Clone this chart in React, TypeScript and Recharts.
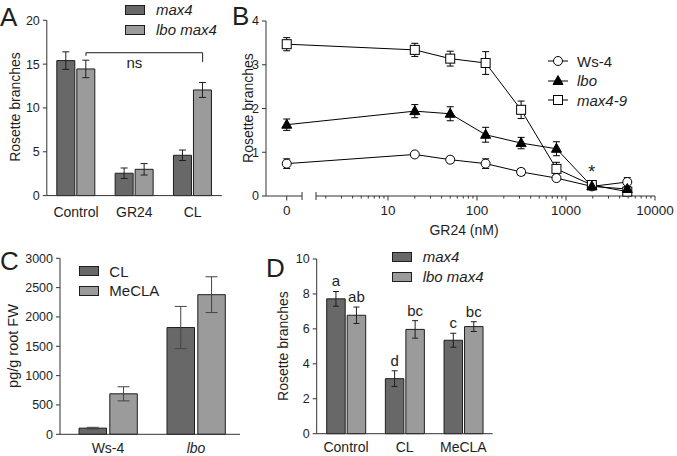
import React from 'react';
import {
  BarChart, Bar, XAxis, YAxis, ErrorBar, LineChart, Line,
  ReferenceLine, ReferenceDot, LabelList, Legend,
} from 'recharts';

const FONT = '"Liberation Sans", Arial, Helvetica, sans-serif';
const DARK = '#686868';
const LIGHT = '#9b9b9b';
const INK = '#1e1e1e';
const AXIS = '#333333';

// ---------------- Panel A ----------------
const aCategories = ['Control', 'GR24', 'CL'];
const aMax4 = [15.4, 2.55, 4.6];
const aMax4Err = [1.0, 0.6, 0.6];
const aLboMax4 = [14.45, 3.0, 12.05];
const aLboMax4Err = [1.0, 0.65, 0.85];
const aTicks = [0, 5, 10, 15, 20];
const aBracketY = 16.3;
const aBracketLeftEnd = 15.95;
const aBracketRightEnd = 15.25;
const aNsY = 15.2;

// ---------------- Panel B ----------------
const bDoses = [0, 20, 50, 125, 313, 781, 1953, 4883];
const bWs4 = [0.74, 0.95, 0.83, 0.74, 0.55, 0.41, 0.22, 0.32];
const bWs4Err = [0.11, 0.06, 0.07, 0.11, 0.08, 0.07, 0.05, 0.1];
const bLbo = [1.63, 1.94, 1.88, 1.4, 1.21, 1.08, 0.22, 0.16];
const bLboErr = [0.13, 0.15, 0.16, 0.17, 0.13, 0.16, 0.06, 0.05];
const bMax49 = [3.47, 3.34, 3.14, 3.04, 1.97, 0.62, 0.25, 0.1];
const bMax49Err = [0.15, 0.15, 0.17, 0.26, 0.2, 0.15, 0.06, 0.05];
const bYTicks = [0, 1, 2, 3, 4];
const bTickLabels = ['0', '10', '100', '1000', '10000'];
const bStarIndex = 6;
const bStarY = 0.56;

// broken-axis layout (log10 units)
const AX_MIN = -0.371;
const ZERO_POS = -0.138;
const SEG1_END = 0.034;
const SEG2_START = 0.191;
const AX_MAX = 4;

// ---------------- Panel C ----------------
const cCategories = ['Ws-4', 'lbo'];
const cCL = [105, 1820];
const cCLErr = [14, 360];
const cMeCLA = [690, 2380];
const cMeCLAErr = [120, 305];
const cTicks = [0, 500, 1000, 1500, 2000, 2500, 3000];

// ---------------- Panel D ----------------
const dCategories = ['Control', 'CL', 'MeCLA'];
const dMax4 = [7.72, 3.15, 5.35];
const dMax4Err = [0.42, 0.45, 0.4];
const dLboMax4 = [6.78, 5.97, 6.13];
const dLboMax4Err = [0.47, 0.5, 0.28];
const dMax4Letters = ['a', 'd', 'c'];
const dLboLetters = ['ab', 'bc', 'bc'];
const dTicks = [0, 2, 4, 6, 8, 10];

// ---------------- data tables ----------------
const dataA = aCategories.map((c, i) => ({
  cat: c, max4: aMax4[i], max4Err: aMax4Err[i], lbo: aLboMax4[i], lboErr: aLboMax4Err[i],
}));
const dataB = bDoses.map((d, i) => ({
  dose: d,
  pos: d === 0 ? ZERO_POS : Math.log10(d),
  ws: bWs4[i], wsErr: bWs4Err[i],
  lbo: bLbo[i], lboErr: bLboErr[i],
  max: bMax49[i], maxErr: bMax49Err[i],
}));
const dataC = cCategories.map((c, i) => ({
  cat: c, cl: cCL[i], clErr: cCLErr[i], me: cMeCLA[i], meErr: cMeCLAErr[i],
}));
const dataD = dCategories.map((c, i) => ({
  cat: c, max4: dMax4[i], max4Err: dMax4Err[i], lbo: dLboMax4[i], lboErr: dLboMax4Err[i],
}));

const bMajor = [ZERO_POS, 1, 2, 3, 4];
const bCaps = [SEG1_END, SEG2_START];
const bMinor: number[] = [];
for (let n = 0; n < 4; n++) for (let k = 2; k <= 9; k++) bMinor.push(n + Math.log10(k));
const bAllTicks = [...bMajor, ...bCaps, ...bMinor].sort((a, b) => a - b);

// ---------------- helpers ----------------
const near = (a: number, b: number) => Math.abs(a - b) < 1e-6;

const BTick = (p: any) => {
  const { x, y, payload } = p;
  const v = payload.value;
  const mi = bMajor.findIndex((m) => near(m, v));
  if (mi >= 0) {
    return (
      <g>
        <line x1={x} y1={y} x2={x} y2={y + 4.5} stroke={AXIS} strokeWidth={1} />
        <text x={x} y={y + 19} textAnchor="middle" fontSize={13.5} fill={INK}>{bTickLabels[mi]}</text>
      </g>
    );
  }
  if (bCaps.some((c) => near(c, v))) {
    return <line x1={x} y1={y - 4} x2={x} y2={y + 4} stroke={AXIS} strokeWidth={1} />;
  }
  return <line x1={x} y1={y} x2={x} y2={y + 2.5} stroke={AXIS} strokeWidth={1} />;
};

const catTick = (baseline: number, italics: string[]) => (p: any) => (
  <text
    x={p.x}
    y={p.y + baseline}
    textAnchor="middle"
    fontSize={14}
    fill={INK}
    fontStyle={italics.includes(p.payload.value) ? 'italic' : 'normal'}
  >
    {p.payload.value}
  </text>
);

const yTick = { fontSize: 12.5, fill: INK };

type BoxItem = { label: string; color: string; italic: boolean };
const boxLegend = (items: BoxItem[], rowH: number, gap: number) => () => (
  <div style={{ fontFamily: FONT }}>
    {items.map((it) => (
      <div key={it.label} style={{ display: 'flex', alignItems: 'center', height: rowH }}>
        <span
          style={{
            display: 'inline-block', width: 20, height: 10, background: it.color,
            border: `1px solid ${INK}`, boxSizing: 'border-box', marginRight: gap,
          }}
        />
        <span
          style={{
            fontSize: 15, fontStyle: it.italic ? 'italic' : 'normal', color: INK,
            lineHeight: `${rowH}px`, whiteSpace: 'nowrap',
          }}
        >
          {it.label}
        </span>
      </div>
    ))}
  </div>
);

const marker = (shape: string, cx: number, cy: number, key: string) => {
  if (shape === 'circle') {
    return <circle key={key} cx={cx} cy={cy} r={4.5} fill="#fff" stroke="#000" strokeWidth={1} />;
  }
  if (shape === 'triangle') {
    return (
      <polygon
        key={key}
        points={`${cx},${cy - 5.5} ${cx - 5},${cy + 3.5} ${cx + 5},${cy + 3.5}`}
        fill="#000"
        stroke="#000"
        strokeWidth={1}
      />
    );
  }
  return <rect key={key} x={cx - 4.5} y={cy - 4.5} width={9} height={9} fill="#fff" stroke="#000" strokeWidth={1} />;
};

const bSeries = [
  { key: 'ws', err: 'wsErr', label: 'Ws-4', italic: false, shape: 'circle' },
  { key: 'max', err: 'maxErr', label: 'max4-9', italic: true, shape: 'square' },
  { key: 'lbo', err: 'lboErr', label: 'lbo', italic: true, shape: 'triangle' },
];
const bLegendOrder = ['ws', 'lbo', 'max'];

const lineLegend = () => (
  <div style={{ fontFamily: FONT }}>
    {bLegendOrder.map((k) => {
      const s = bSeries.find((x) => x.key === k)!;
      return (
        <div key={k} style={{ display: 'flex', alignItems: 'center', height: 19.5 }}>
          <svg width={20} height={12} style={{ marginRight: 9, overflow: 'visible' }}>
            <line x1={0} y1={6} x2={20} y2={6} stroke="#000" strokeWidth={1} />
            {marker(s.shape, 10, 6, `lg-${k}`)}
          </svg>
          <span style={{ fontSize: 15, fontStyle: s.italic ? 'italic' : 'normal', color: INK, whiteSpace: 'nowrap' }}>
            {s.label}
          </span>
        </div>
      );
    })}
  </div>
);

const BAR_A = 18;
const GAP_A = 2;
const shiftedLine = (dx: number) => (p: any) => (
  <line x1={p.x1 + dx} y1={p.y1} x2={p.x2 + dx} y2={p.y2} stroke={INK} strokeWidth={1} />
);

const letterLabel = (vals: number[], errs: number[], letters: string[]) => (p: any) => {
  const vb = p.viewBox && p.viewBox.width !== undefined ? p.viewBox : p;
  const x = vb.x ?? p.x;
  const y = vb.y ?? p.y;
  const width = vb.width ?? p.width;
  const height = vb.height ?? p.height;
  let idx = p.index;
  if (idx === undefined || idx === null) idx = vals.indexOf(p.value);
  if (idx < 0) return null;
  const perUnit = Math.abs(height) / vals[idx];
  const top = y - errs[idx] * perUnit;
  return (
    <text x={x + width / 2} y={top - 5} textAnchor="middle" fontSize={15} fill={INK}>
      {letters[idx]}
    </text>
  );
};

const txt = { fontFamily: FONT, fill: INK };

export default function App() {
  return (
    <div style={{ position: 'absolute', left: 0, top: 0, width: 677, height: 456, background: '#fff', fontFamily: FONT }}>
      {/* Panel A */}
      <div style={{ position: 'absolute', left: 0, top: 0 }}>
        <BarChart width={240} height={225} data={dataA} margin={{ top: 20.3, right: 18.2, bottom: 0, left: 0 }} barSize={BAR_A} barGap={GAP_A}>
          <XAxis dataKey="cat" height={29.4} tickSize={0} tickMargin={0} tickLine={false} axisLine={{ stroke: AXIS }} tick={catTick(21, [])} interval={0} />
          <YAxis domain={[0, 20]} ticks={aTicks} width={46.8} tickSize={4} tickMargin={3} axisLine={{ stroke: AXIS }} tickLine={{ stroke: AXIS }} tick={yTick} interval={0} />
          <Bar dataKey="max4" fill={DARK} stroke={INK} strokeWidth={1} isAnimationActive={false}>
            <ErrorBar dataKey="max4Err" width={3.5} stroke={INK} strokeWidth={1} direction="y" isAnimationActive={false} />
          </Bar>
          <Bar dataKey="lbo" fill={LIGHT} stroke={INK} strokeWidth={1} isAnimationActive={false}>
            <ErrorBar dataKey="lboErr" width={3.5} stroke={INK} strokeWidth={1} direction="y" isAnimationActive={false} />
          </Bar>
          <ReferenceLine segment={[{ x: 'Control', y: aBracketY }, { x: 'CL', y: aBracketY }]} shape={shiftedLine(BAR_A / 2 + GAP_A / 2)} />
          <ReferenceLine segment={[{ x: 'Control', y: aBracketY }, { x: 'Control', y: aBracketLeftEnd }]} shape={shiftedLine(BAR_A / 2 + GAP_A / 2)} />
          <ReferenceLine segment={[{ x: 'CL', y: aBracketY }, { x: 'CL', y: aBracketRightEnd }]} shape={shiftedLine(BAR_A / 2 + GAP_A / 2)} />
          <ReferenceDot x="GR24" y={aNsY} r={0} fill="none" stroke="none" label={{ value: 'ns', position: 'center', fontSize: 15, fill: INK }} />
          <Legend
            layout="vertical" align="center" verticalAlign="middle"
            content={boxLegend([
              { label: 'max4', color: DARK, italic: true },
              { label: 'lbo max4', color: LIGHT, italic: true },
            ], 20, 11)}
            wrapperStyle={{ left: 125, top: 0, width: 'auto' }}
          />
        </BarChart>
      </div>

      {/* Panel B */}
      <div style={{ position: 'absolute', left: 220, top: 0 }}>
        <LineChart width={457} height={245} data={dataB} margin={{ top: 21, right: 22, bottom: 0, left: 0 }}>
          <XAxis
            type="number" dataKey="pos" domain={[AX_MIN, AX_MAX]} allowDataOverflow
            ticks={bAllTicks} interval={0} tick={BTick} tickSize={0} tickMargin={0}
            axisLine={false} tickLine={false} height={49}
          />
          <YAxis domain={[0, 4]} ticks={bYTicks} width={46} tickSize={4} tickMargin={3} axisLine={{ stroke: AXIS }} tickLine={{ stroke: AXIS }} tick={yTick} interval={0} />
          <ReferenceLine segment={[{ x: AX_MIN, y: 0 }, { x: SEG1_END, y: 0 }]} stroke={AXIS} strokeWidth={1} />
          <ReferenceLine segment={[{ x: SEG2_START, y: 0 }, { x: AX_MAX, y: 0 }]} stroke={AXIS} strokeWidth={1} />
          {bSeries.map((s) => (
            <Line
              key={s.key}
              type="linear"
              dataKey={s.key}
              stroke="#000"
              strokeWidth={1}
              isAnimationActive={false}
              activeDot={false}
              dot={(p: any) => marker(s.shape, p.cx, p.cy, `${s.key}-${p.index}`)}
            >
              <ErrorBar dataKey={s.err} width={3.5} stroke="#000" strokeWidth={1} direction="y" isAnimationActive={false} />
            </Line>
          ))}
          <ReferenceDot
            x={Math.log10(bDoses[bStarIndex])} y={bStarY} r={0} fill="none" stroke="none"
            label={{ value: '*', position: 'center', fontSize: 18, fill: INK }}
          />
          <Legend
            layout="vertical" align="center" verticalAlign="middle"
            content={lineLegend}
            wrapperStyle={{ left: 328, top: 51.7, width: 'auto' }}
          />
        </LineChart>
      </div>

      {/* Panel C */}
      <div style={{ position: 'absolute', left: 0, top: 220 }}>
        <BarChart width={250} height={236} data={dataC} margin={{ top: 38.3, right: 10, bottom: 0, left: 0 }} barSize={27.5} barGap={3.3}>
          <XAxis dataKey="cat" height={21.7} padding={{ left: 4, right: 0 }} tickSize={0} tickMargin={0} tickLine={false} axisLine={{ stroke: AXIS }} tick={catTick(18.5, ['lbo'])} interval={0} />
          <YAxis domain={[0, 3000]} ticks={cTicks} width={60} tickSize={4} tickMargin={3} axisLine={{ stroke: AXIS }} tickLine={{ stroke: AXIS }} tick={yTick} interval={0} />
          <Bar dataKey="cl" fill={DARK} stroke={INK} strokeWidth={1} isAnimationActive={false}>
            <ErrorBar dataKey="clErr" width={6} stroke="#444" strokeWidth={1} direction="y" isAnimationActive={false} />
          </Bar>
          <Bar dataKey="me" fill={LIGHT} stroke={INK} strokeWidth={1} isAnimationActive={false}>
            <ErrorBar dataKey="meErr" width={6} stroke="#444" strokeWidth={1} direction="y" isAnimationActive={false} />
          </Bar>
          <Legend
            layout="vertical" align="center" verticalAlign="middle"
            content={boxLegend([
              { label: 'CL', color: DARK, italic: false },
              { label: 'MeCLA', color: LIGHT, italic: false },
            ], 19.5, 10)}
            wrapperStyle={{ left: 79.3, top: 41.5, width: 'auto' }}
          />
        </BarChart>
      </div>

      {/* Panel D */}
      <div style={{ position: 'absolute', left: 270, top: 220 }}>
        <BarChart width={236} height={236} data={dataD} margin={{ top: 39, right: 13.3, bottom: 0, left: 0 }} barSize={18.5} barGap={2}>
          <XAxis dataKey="cat" height={22.3} tickSize={0} tickMargin={0} tickLine={false} axisLine={{ stroke: AXIS }} tick={catTick(18.5, [])} interval={0} />
          <YAxis domain={[0, 10]} ticks={dTicks} width={46.7} tickSize={4} tickMargin={3} axisLine={{ stroke: AXIS }} tickLine={{ stroke: AXIS }} tick={yTick} interval={0} />
          <Bar dataKey="max4" fill={DARK} stroke={INK} strokeWidth={1} isAnimationActive={false}>
            <ErrorBar dataKey="max4Err" width={3} stroke={INK} strokeWidth={1} direction="y" isAnimationActive={false} />
            <LabelList dataKey="max4" content={letterLabel(dMax4, dMax4Err, dMax4Letters)} />
          </Bar>
          <Bar dataKey="lbo" fill={LIGHT} stroke={INK} strokeWidth={1} isAnimationActive={false}>
            <ErrorBar dataKey="lboErr" width={3} stroke={INK} strokeWidth={1} direction="y" isAnimationActive={false} />
            <LabelList dataKey="lbo" content={letterLabel(dLboMax4, dLboMax4Err, dLboLetters)} />
          </Bar>
          <Legend
            layout="vertical" align="center" verticalAlign="middle"
            content={boxLegend([
              { label: 'max4', color: DARK, italic: true },
              { label: 'lbo max4', color: LIGHT, italic: true },
            ], 20.5, 11)}
            wrapperStyle={{ left: 121.7, top: 26.6, width: 'auto' }}
          />
        </BarChart>
      </div>

      {/* panel letters and axis titles */}
      <svg width={677} height={456} style={{ position: 'absolute', left: 0, top: 0, pointerEvents: 'none' }}>
        <text x={0} y={26} fontSize={26} {...txt}>A</text>
        <text x={232} y={25} fontSize={26} {...txt}>B</text>
        <text x={0} y={270} fontSize={26} {...txt}>C</text>
        <text x={266} y={277} fontSize={26} {...txt}>D</text>
        <text x={15} y={107} fontSize={14} textAnchor="middle" dominantBaseline="central" transform="rotate(-90 15 107)" {...txt}>Rosette branches</text>
        <text x={248} y={108} fontSize={14} textAnchor="middle" dominantBaseline="central" transform="rotate(-90 248 108)" {...txt}>Rosette branches</text>
        <text x={13} y={346} fontSize={14.5} textAnchor="middle" dominantBaseline="central" transform="rotate(-90 13 346)" {...txt}>pg/g root FW</text>
        <text x={283} y={346} fontSize={14} textAnchor="middle" dominantBaseline="central" transform="rotate(-90 283 346)" {...txt}>Rosette branches</text>
        <text x={464} y={235} fontSize={14} textAnchor="middle" {...txt}>GR24 (nM)</text>
      </svg>
    </div>
  );
}
